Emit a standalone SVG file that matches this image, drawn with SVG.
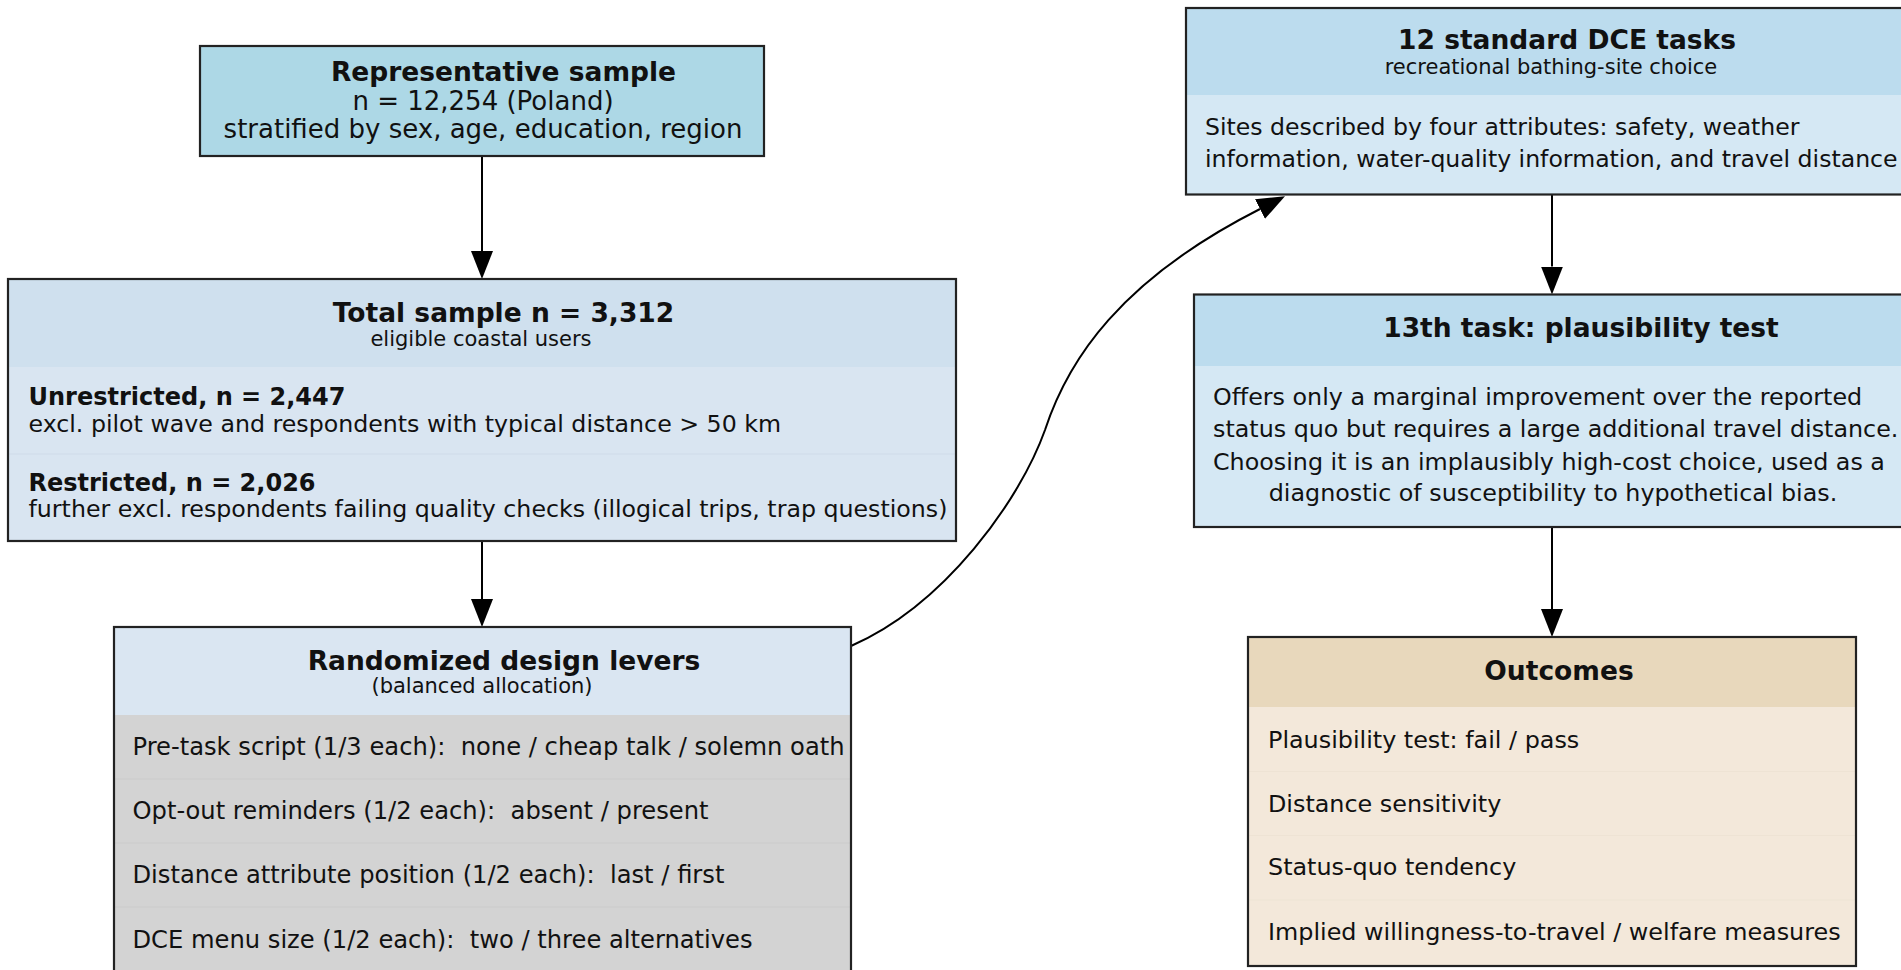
<svg xmlns="http://www.w3.org/2000/svg" width="1901" height="970" viewBox="0 0 1901 970">
<defs>
<style>
text{font-family:"DejaVu Sans",Verdana,sans-serif;fill:#111}
.t{font-size:26.5px;font-weight:bold;text-anchor:middle}
.r{font-size:26px;text-anchor:middle}
.s{font-size:21px;text-anchor:middle}
.b{font-size:23.7px}
.bm{text-anchor:middle}
.bb{font-size:24px;font-weight:bold}
.frame{fill:none;stroke:#222;stroke-width:2.2}
.div{stroke-width:1.2}
.edge{fill:none;stroke:#000;stroke-width:2}
</style>
<marker id="ah" markerUnits="userSpaceOnUse" markerWidth="30" markerHeight="24" refX="0" refY="11" orient="auto" viewBox="0 0 30 24">
<path d="M0,0 L28,11 L0,22 z" fill="#000"/>
</marker>
</defs>
<rect width="1901" height="970" fill="#fff"/>

<g id="connectors">
<line class="edge" x1="482" y1="156" x2="482" y2="251" marker-end="url(#ah)"/>
<line class="edge" x1="482" y1="541" x2="482" y2="599" marker-end="url(#ah)"/>
<path class="edge" d="M851,646 C945,605 1020,500 1045,430 C1068,360 1120,280 1260,209" marker-end="url(#ah)"/>
<line class="edge" x1="1552" y1="194.5" x2="1552" y2="266.5" marker-end="url(#ah)"/>
<line class="edge" x1="1552" y1="527" x2="1552" y2="609" marker-end="url(#ah)"/>
</g>

<g id="representative">
<rect x="200" y="46" width="564" height="110" fill="#add8e6"/>
<rect class="frame" x="200" y="46" width="564" height="110"/>
<text class="t" x="503.5" y="80.5">Representative sample</text>
<text class="r" x="483" y="109.5">n = 12,254 (Poland)</text>
<text class="r" x="483" y="138">stratified by sex, age, education, region</text>
</g>

<g id="total">
<rect x="8" y="279" width="948" height="88" fill="#cfe0ee"/>
<rect x="8" y="367" width="948" height="174" fill="#d9e5f1"/>
<line class="div" x1="9" y1="454" x2="955" y2="454" stroke="#d0dce9"/>
<rect class="frame" x="8" y="279" width="948" height="262"/>
<text class="t" x="503.5" y="321.5">Total sample n = 3,312</text>
<text class="s" x="481" y="346">eligible coastal users</text>
<text class="bb" x="28.5" y="405">Unrestricted, n = 2,447</text>
<text class="b" x="28.5" y="432">excl. pilot wave and respondents with typical distance &gt; 50 km</text>
<text class="bb" x="28.5" y="490.5">Restricted, n = 2,026</text>
<text class="b" x="28.5" y="517">further excl. respondents failing quality checks (illogical trips, trap questions)</text>
</g>

<g id="randomized">
<rect x="114" y="627" width="737" height="88" fill="#dae6f2"/>
<rect x="114" y="715" width="737" height="262" fill="#d3d3d3"/>
<line class="div" x1="115" y1="779" x2="850" y2="779" stroke="#cccccc"/>
<line class="div" x1="115" y1="843" x2="850" y2="843" stroke="#cccccc"/>
<line class="div" x1="115" y1="907" x2="850" y2="907" stroke="#cccccc"/>
<rect class="frame" x="114" y="627" width="737" height="350"/>
<text class="t" x="504" y="669.5">Randomized design levers</text>
<text class="s" x="482" y="692.5">(balanced allocation)</text>
<text class="b" x="132.5" y="755" style="font-size:24.2px" xml:space="preserve">Pre-task script (1/3 each):  none / cheap talk / solemn oath</text>
<text class="b" x="132.5" y="819" style="font-size:24.2px" xml:space="preserve">Opt-out reminders (1/2 each):  absent / present</text>
<text class="b" x="132.5" y="883" style="font-size:24.2px" xml:space="preserve">Distance attribute position (1/2 each):  last / first</text>
<text class="b" x="132.5" y="947.5" style="font-size:24.2px" xml:space="preserve">DCE menu size (1/2 each):  two / three alternatives</text>
</g>

<g id="dce12">
<rect x="1186" y="8" width="732" height="87" fill="#bcdcee"/>
<rect x="1186" y="95" width="732" height="99.5" fill="#d5e8f4"/>
<rect class="frame" x="1186" y="8" width="732" height="186.5"/>
<text class="t" x="1567" y="49">12 standard DCE tasks</text>
<text class="s" x="1551" y="73.5">recreational bathing-site choice</text>
<text class="b" x="1205" y="135" style="font-size:23.6px">Sites described by four attributes: safety, weather</text>
<text class="b" x="1205" y="166.5" style="font-size:23.6px">information, water-quality information, and travel distance</text>
</g>

<g id="task13">
<rect x="1194" y="294.5" width="716" height="71.5" fill="#bcdcee"/>
<rect x="1194" y="366" width="716" height="161" fill="#d5e8f4"/>
<rect class="frame" x="1194" y="294.5" width="716" height="232.5"/>
<text class="t" x="1581" y="336.5">13th task: plausibility test</text>
<text class="b" x="1213" y="404.5" style="font-size:23.8px">Offers only a marginal improvement over the reported</text>
<text class="b" x="1213" y="437" style="font-size:23.8px">status quo but requires a large additional travel distance.</text>
<text class="b" x="1213" y="469.5" style="font-size:23.8px">Choosing it is an implausibly high-cost choice, used as a</text>
<text class="b bm" x="1553" y="501" style="font-size:23.8px">diagnostic of susceptibility to hypothetical bias.</text>
</g>

<g id="outcomes">
<rect x="1248" y="637" width="608" height="70" fill="#e8d8bc"/>
<rect x="1248" y="707" width="608" height="259" fill="#f3e8da"/>
<line class="div" x1="1249" y1="771.5" x2="1855" y2="771.5" stroke="#eee3d4"/>
<line class="div" x1="1249" y1="835.5" x2="1855" y2="835.5" stroke="#eee3d4"/>
<line class="div" x1="1249" y1="900" x2="1855" y2="900" stroke="#eee3d4"/>
<rect class="frame" x="1248" y="637" width="608" height="329"/>
<text class="t" x="1559" y="679.5">Outcomes</text>
<text class="b" x="1268" y="747.5" style="font-size:23.85px">Plausibility test: fail / pass</text>
<text class="b" x="1268" y="811.5" style="font-size:23.85px">Distance sensitivity</text>
<text class="b" x="1268" y="875" style="font-size:23.85px">Status-quo tendency</text>
<text class="b" x="1268" y="939.5" style="font-size:23.85px">Implied willingness-to-travel / welfare measures</text>
</g>
</svg>
